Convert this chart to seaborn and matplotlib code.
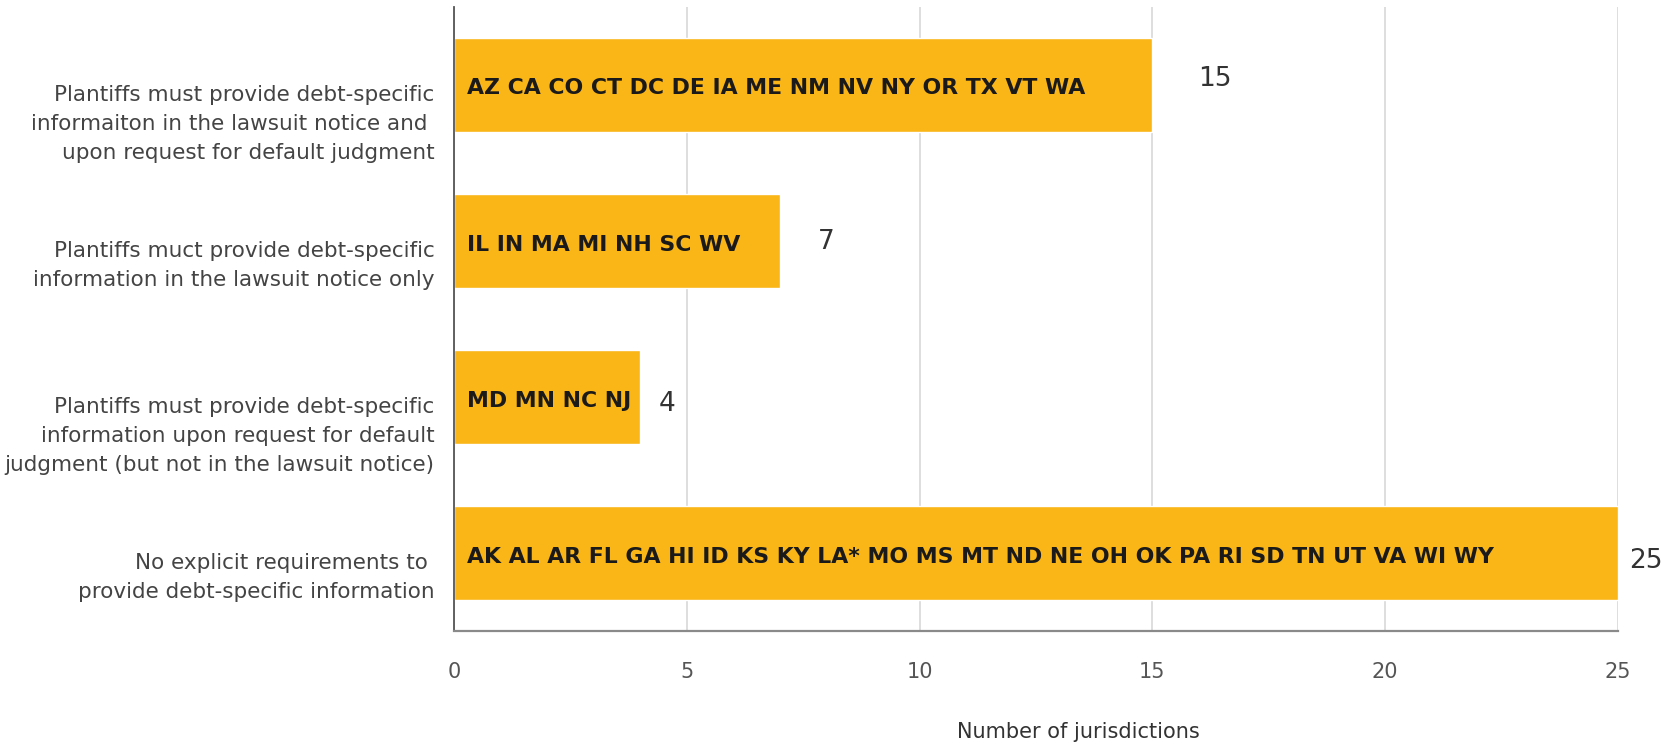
import matplotlib
matplotlib.use("Agg")
import matplotlib.pyplot as plt
import matplotlib.transforms as mtransforms
import pandas as pd
import seaborn as sns

categories = [
    "Plantiffs must provide debt-specific\ninformaiton in the lawsuit notice and \nupon request for default judgment",
    "Plantiffs muct provide debt-specific\ninformation in the lawsuit notice only",
    "Plantiffs must provide debt-specific\ninformation upon request for default\njudgment (but not in the lawsuit notice)",
    "No explicit requirements to \nprovide debt-specific information",
]
counts = [15, 7, 4, 25]
states = [
    "AZ CA CO CT DC DE IA ME NM NV NY OR TX VT WA",
    "IL IN MA MI NH SC WV",
    "MD MN NC NJ",
    "AK AL AR FL GA HI ID KS KY LA* MO MS MT ND NE OH OK PA RI SD TN UT VA WI WY",
]
xticks = [0, 5, 10, 15, 20, 25]

# offsets (points) of the count labels from the bar ends
value_offsets = [(33, 4), (27, -1), (13, -5), (8, -6)]

bar_color = "#FAB516"

if __name__ == "__main__":
    sns.set_style("white")
    plt.rcParams['font.family'] = ['DejaVu Sans']

    df = pd.DataFrame({"category": categories, "count": counts, "states": states})

    fig = plt.figure(figsize=(16.75, 7.46), dpi=100)
    ax = fig.add_axes([0.271, 0.154, 0.695, 0.8366])

    sns.barplot(df, x="count", y="category", orient="h", color=bar_color,
                width=0.6, saturation=1, ax=ax, zorder=2)

    ax.set_xlim(0, 25)
    ax.set_ylim(3.5, -0.5)
    ax.set(xticks=xticks)
    ax.grid(axis="x", color="#d4d4d4", linewidth=1.1, zorder=0)
    ax.set_axisbelow(True)

    ax.set_yticks(range(len(categories)))
    ax.set_yticklabels(categories, va="top", fontsize=15.5, color="#444444", linespacing=1.55)
    # labels sit a little below the bar centre in the original
    shift = mtransforms.ScaledTranslation(0, -4 / 100, fig.dpi_scale_trans)
    for lab in ax.get_yticklabels():
        lab.set_transform(lab.get_transform() + shift)
    ax.tick_params(axis="y", length=0, pad=14)
    ax.tick_params(axis="x", length=0, pad=22, labelsize=15, labelcolor="#555555")

    ax.set_ylabel("")
    ax.set_xlabel("Number of jurisdictions", fontsize=15, color="#333333", va="center")
    ax.xaxis.set_label_coords(0.536, -0.162)

    for side in ["top", "right"]:
        ax.spines[side].set_visible(False)
    ax.spines["left"].set_color("#555555")
    ax.spines["left"].set_linewidth(1.3)
    ax.spines["bottom"].set_color("#8a8a8a")
    ax.spines["bottom"].set_linewidth(1.6)

    for i, (n, st) in enumerate(zip(counts, states)):
        ax.annotate(st, xy=(0, i), xytext=(9.5, -2.5), textcoords="offset points",
                    va="center", ha="left", fontsize=15.8, fontweight="bold", color="#1a1a1a", zorder=3)
        dx, dy = value_offsets[i]
        ax.annotate(str(n), xy=(n, i), xytext=(dx, dy), textcoords="offset points",
                    va="center", ha="left", fontsize=19, color="#333333")

    plt.savefig("out.png", dpi=100)
